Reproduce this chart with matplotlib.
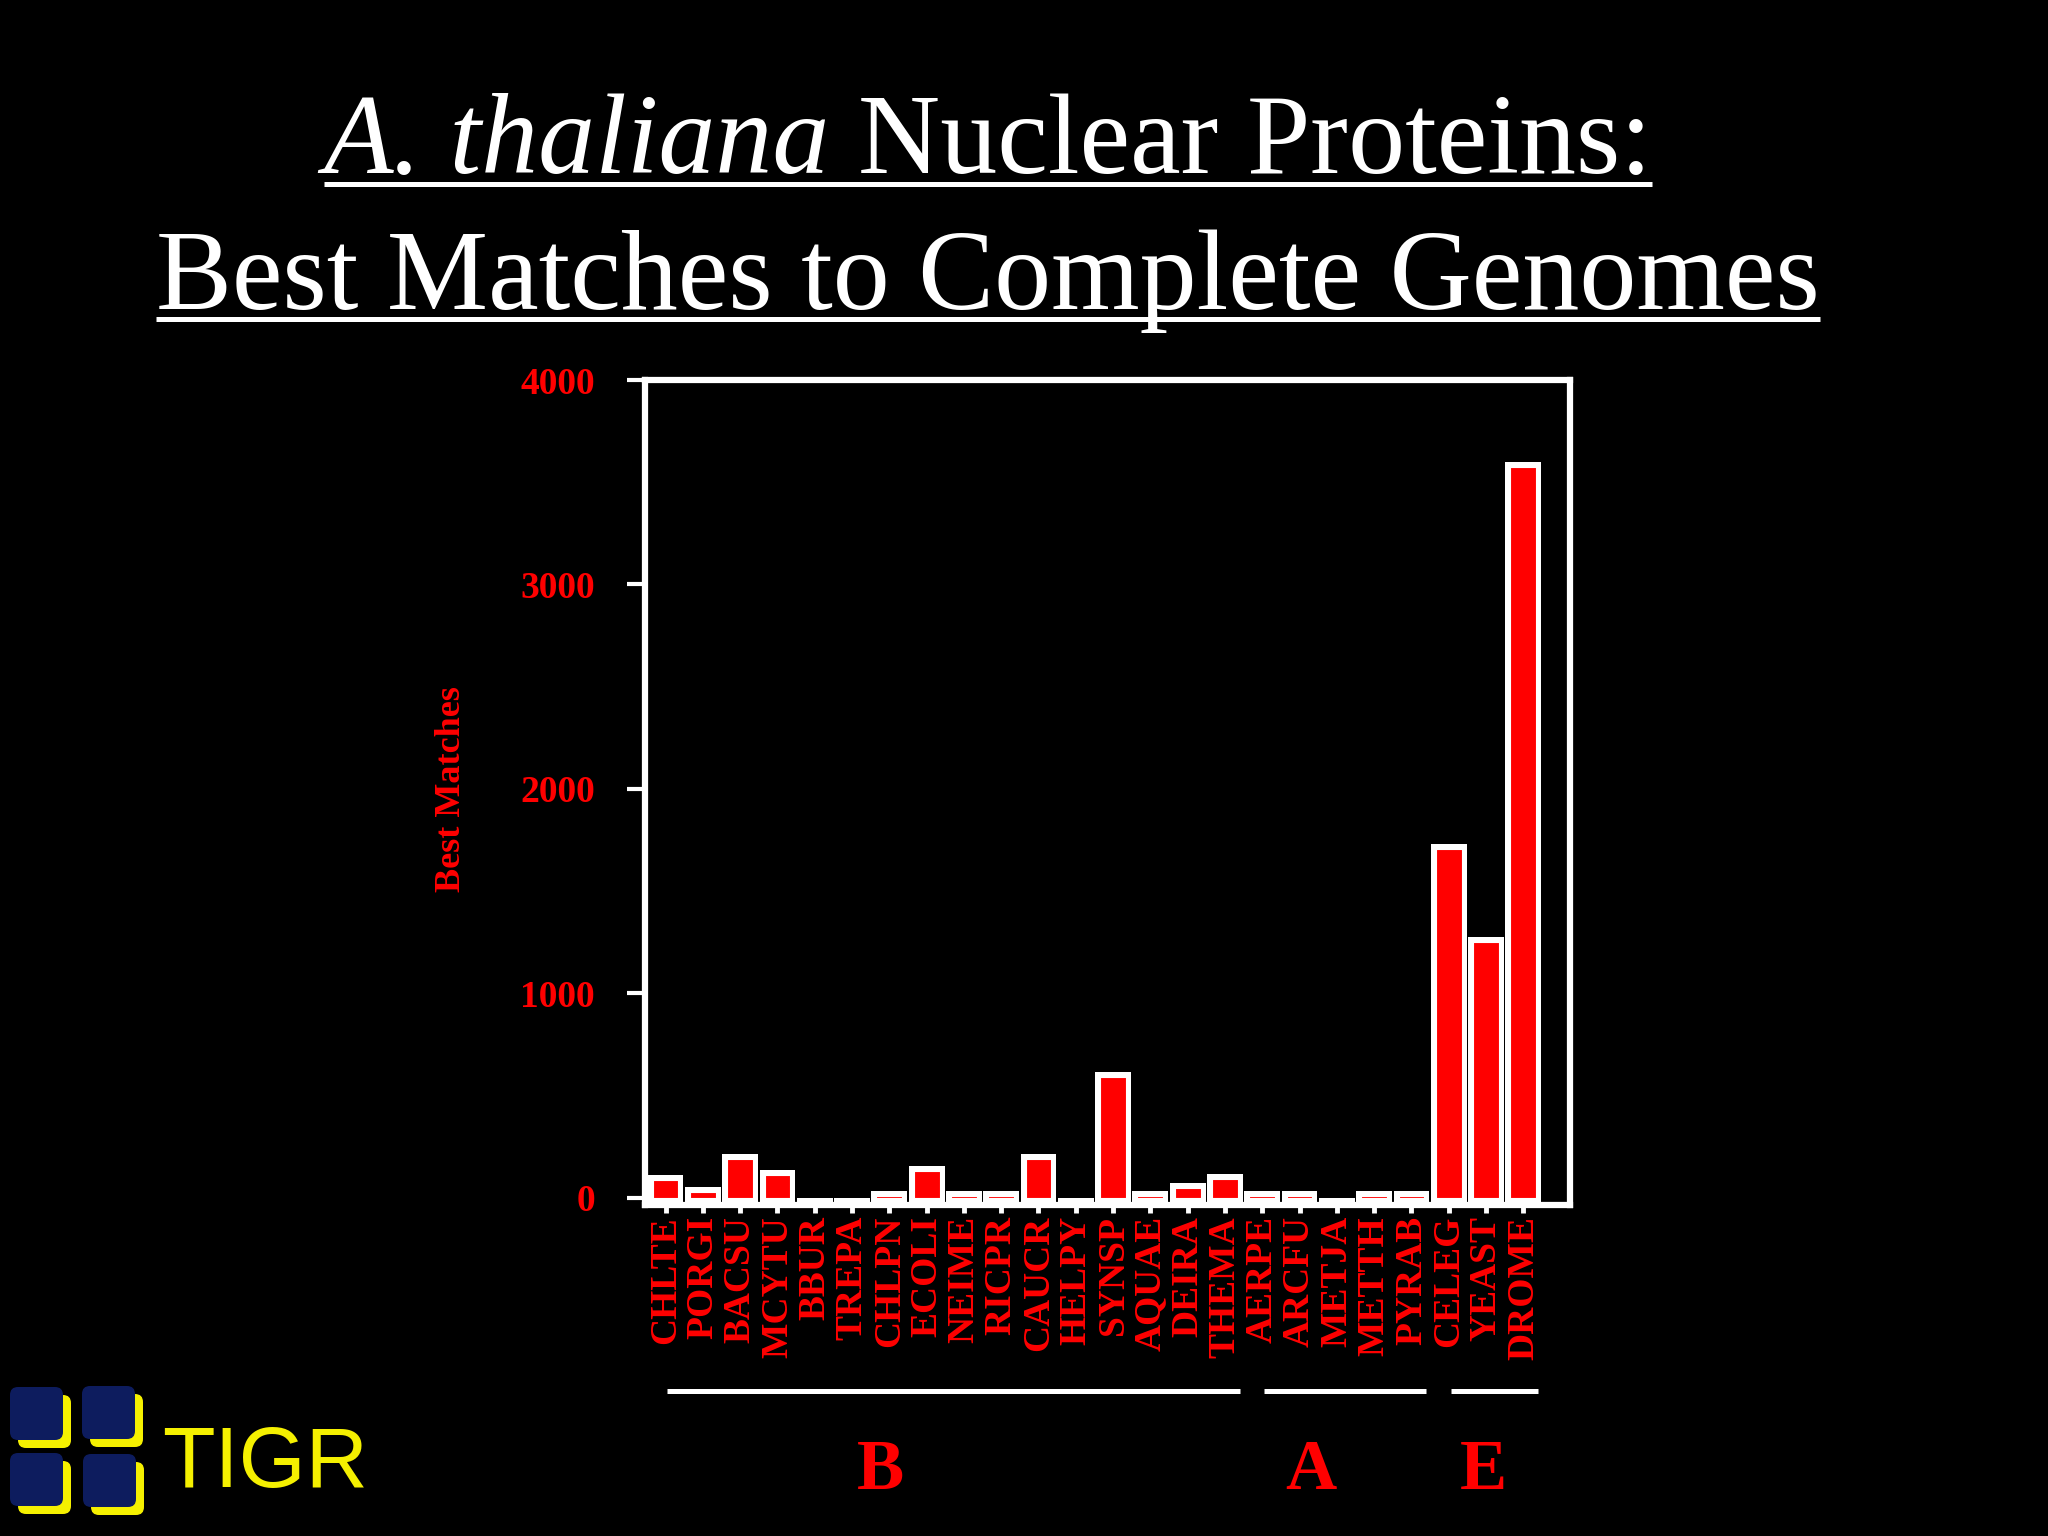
import matplotlib
matplotlib.use("Agg")
import matplotlib.pyplot as plt
import numpy as np
from matplotlib.lines import Line2D
from matplotlib.patches import FancyBboxPatch
from matplotlib.transforms import blended_transform_factory

# data
organisms = ["CHLTE", "PORGI", "BACSU", "MCYTU", "BBUR", "TREPA", "CHLPN", "ECOLI",
             "NEIME", "RICPR", "CAUCR", "HELPY", "SYNSP", "AQUAE", "DEIRA", "THEMA",
             "AERPE", "ARCFU", "METJA", "METTH", "PYRAB", "CELEG", "YEAST", "DROME"]
best_matches = [110, 55, 215, 135, 0, 0, 35, 155, 35, 35, 215, 0, 615, 35, 75, 115,
                35, 35, 0, 35, 35, 1730, 1275, 3600]
yticks = [0, 1000, 2000, 3000, 4000]
groups = ["B", "A", "E"]
group_first = [0, 16, 21]
group_last = [15, 20, 23]

SERIF = ["Liberation Serif", "DejaVu Serif"]
SANS = ["Liberation Sans", "DejaVu Sans"]
RED = "#ff0000"
BG = "#000000"
W, H = 2048, 1536

fig = plt.figure(figsize=(W / 100, H / 100), dpi=100, facecolor=BG)

# main plot (pixel box of the slide: x 645..1570, y 380..1205)
ax = fig.add_axes([645 / W, 1 - 1205 / H, (1570 - 645) / W, (1205 - 380) / H])
ax.set_facecolor(BG)
ax.set_xlim(-0.55, 24.25)
ax.set_ylim(-35, 4000)
x = np.arange(len(organisms))
# old-style bars: white border drawn inside the bar, bottom border tucked under zero
base = -27
bars = ax.bar(x, np.array(best_matches) - base, bottom=base, width=0.96, color=RED,
              edgecolor="white", linewidth=8)
for b in bars:
    b.set_clip_path(b)
for s in ax.spines.values():
    s.set_color("white")
    s.set_linewidth(4.5)
    s.set_zorder(3)
ax.set_yticks(yticks)
ax.set_yticklabels([str(v) for v in yticks], fontfamily=SERIF, fontweight="bold",
                   color=RED, fontsize=27)
ax.set_xticks(x)
ax.set_xticklabels(organisms, rotation=90, fontfamily=SERIF, fontweight="bold",
                   color=RED, fontsize=27)
ax.tick_params(axis="y", direction="out", length=13, width=3, color="white", pad=23)
ax.tick_params(axis="x", direction="out", length=6, width=3.5, color="white", pad=2)

fig.text(452 / W, 1 - 789 / H, "Best Matches", rotation=90, ha="center", va="center",
         color=RED, fontfamily=SERIF, fontweight="bold", fontsize=26)

# kingdom brackets under the labels
tr = blended_transform_factory(ax.transData, ax.transAxes)
for a, b in zip(group_first, group_last):
    ax.add_line(Line2D([a + 0.05, b + 0.4], [-0.2255, -0.2255], transform=tr,
                       color="white", lw=3.6, clip_on=False, solid_capstyle="butt"))
letter_x_px = [880, 1311, 1483]
for g, px in zip(groups, letter_x_px):
    fig.text(px / W, 1 - 1489 / H, g, ha="center", va="baseline", color=RED,
             fontfamily=SERIF, fontweight="bold", fontsize=51)

# title, underlined
r = fig.canvas.get_renderer()
tkw = dict(color="white", fontsize=82, fontfamily=SERIF, va="baseline", ha="left")
ta = fig.text(0, 1 - 173 / H, "A. thaliana", style="italic", **tkw)
tb = fig.text(0, 1 - 173 / H, "Nuclear Proteins:", **tkw)
tc = fig.text(0, 1 - 309 / H, "Best Matches to Complete Genomes", **tkw)
center = 988
space = 0.25 * 82 * 100 / 72
wa = ta.get_window_extent(r).width
wb = tb.get_window_extent(r).width
wc = tc.get_window_extent(r).width
left1 = center - (wa + space + wb) / 2
ta.set_x(left1 / W)
tb.set_x((left1 + wa + space) / W)
left2 = center - wc / 2
tc.set_x(left2 / W)
for l, rr, y in [(left1, left1 + wa + space + wb, 184), (left2, left2 + wc, 319)]:
    fig.add_artist(Line2D([l / W, rr / W], [1 - y / H] * 2, transform=fig.transFigure,
                          color="white", lw=3.6, solid_capstyle="butt"))

# TIGR logo, drawn in slide pixels
lg = fig.add_axes([0, 0, 400 / W, 176 / H])
lg.set_xlim(0, 400)
lg.set_ylim(1536, 1360)
lg.axis("off")
for (sx, sy) in [(10, 1387), (82, 1386), (10, 1453), (83, 1454)]:
    lg.add_patch(FancyBboxPatch((sx + 8, sy + 8), 53, 53,
                                boxstyle="round,pad=0,rounding_size=8",
                                fc="#f5f000", ec="none"))
    lg.add_patch(FancyBboxPatch((sx, sy), 53, 53,
                                boxstyle="round,pad=0,rounding_size=8",
                                fc="#0d1c5e", ec="none"))
lg.text(162, 1487, "TIGR", color="#f5f000", fontfamily=SANS, fontsize=62, va="baseline")

fig.savefig("out.png", dpi=100, facecolor=BG)
